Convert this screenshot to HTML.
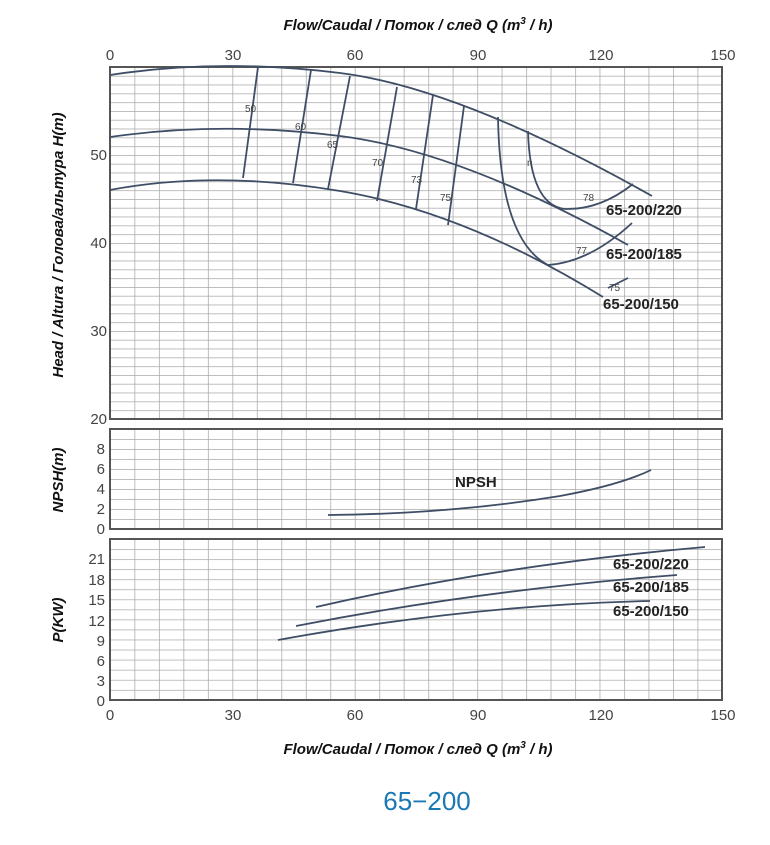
<!DOCTYPE html>
<html><head><meta charset="utf-8"><style>
body{margin:0;background:#fff;width:770px;height:840px;overflow:hidden}
svg text{font-family:"Liberation Sans",sans-serif}
</style></head><body>
<svg width="770" height="840" xmlns="http://www.w3.org/2000/svg">
<defs>
<pattern id="p1" x="110" y="67" width="24.48" height="8.8" patternUnits="userSpaceOnUse"><path d="M0,0V8.8M0,0H24.48" stroke="#a8a8a8" stroke-width="1.5" fill="none"/></pattern>
<pattern id="p2" x="110" y="429" width="24.48" height="10" patternUnits="userSpaceOnUse"><path d="M0,0V10M0,0H24.48" stroke="#a8a8a8" stroke-width="1.5" fill="none"/></pattern>
<pattern id="p3" x="110" y="539" width="24.48" height="10.06" patternUnits="userSpaceOnUse"><path d="M0,0V10.06M0,0H24.48" stroke="#a8a8a8" stroke-width="1.5" fill="none"/></pattern>
</defs>
<rect x="110" y="67" width="612" height="352" fill="url(#p1)"/>
<rect x="110" y="429" width="612" height="100" fill="url(#p2)"/>
<rect x="110" y="539" width="612" height="161" fill="url(#p3)"/>
<g fill="none" stroke="#555" stroke-width="2">
<rect x="110" y="67" width="612" height="352"/>
<rect x="110" y="429" width="612" height="100"/>
<rect x="110" y="539" width="612" height="161"/>
</g>
<g fill="none" stroke="#3f4e66" stroke-width="1.8" stroke-linejoin="round">
<path d="M110,75 Q220,58 340,73 T652,196"/>
<path d="M110,137 Q220,121 340,136 T628,245"/>
<path d="M110,190 Q215,170 340,191 T603,297"/>
<path d="M258,67 L243,178"/>
<path d="M311,70 L293,183"/>
<path d="M350,76 L328,189"/>
<path d="M397,87 L377,201"/>
<path d="M433,95 L416,209"/>
<path d="M464,106 L448,225"/>
<path d="M498,117 Q500,240 548,265 Q590,262 632,223"/>
<path d="M528,131 Q530,205 565,209 Q600,210 633,184"/>
<path d="M608,288 L628,278"/>
<path d="M328,515 Q450,514 560,496 Q620,485 651,470"/>
<path d="M316,607 Q500,565 705,547"/>
<path d="M296,626 Q480,590 677,575"/>
<path d="M278,640 Q470,605 650,601"/>
</g>
<g font-size="10" fill="#444">
<text x="245" y="112">50</text><text x="295" y="130">60</text><text x="327" y="148">65</text>
<text x="372" y="166">70</text><text x="411" y="183">73</text><text x="440" y="201">75</text>
<text x="527" y="166">η</text><text x="583" y="201">78</text><text x="576" y="254">77</text><text x="609" y="291">75</text>
</g>
<g font-size="15" font-weight="bold" fill="#222" style="font-family:'DejaVu Sans',sans-serif">
<text x="606" y="215">65-200/220</text><text x="606" y="259">65-200/185</text><text x="603" y="309">65-200/150</text>
<text x="455" y="487">NPSH</text>
<text x="613" y="569">65-200/220</text><text x="613" y="592">65-200/185</text><text x="613" y="616">65-200/150</text>
</g>
<g font-size="15" fill="#444" text-anchor="middle">
<text x="110" y="60">0</text><text x="233" y="60">30</text><text x="355" y="60">60</text><text x="478" y="60">90</text><text x="601" y="60">120</text><text x="723" y="60">150</text>
<text x="110" y="720">0</text><text x="233" y="720">30</text><text x="355" y="720">60</text><text x="478" y="720">90</text><text x="601" y="720">120</text><text x="723" y="720">150</text>
</g>
<g font-size="15" fill="#444" text-anchor="end">
<text x="107" y="160">50</text><text x="107" y="248">40</text><text x="107" y="336">30</text><text x="107" y="424">20</text>
<text x="105" y="454">8</text><text x="105" y="474">6</text><text x="105" y="494">4</text><text x="105" y="514">2</text><text x="105" y="534">0</text>
<text x="105" y="564">21</text><text x="105" y="585">18</text><text x="105" y="605">15</text><text x="105" y="626">12</text><text x="105" y="646">9</text><text x="105" y="666">6</text><text x="105" y="686">3</text><text x="105" y="706">0</text>
</g>
<g font-size="15" font-weight="bold" font-style="italic" fill="#111">
<text x="418" y="30" text-anchor="middle">Flow/Caudal  /  Поток / след   Q (m<tspan font-size="10" dy="-6">3</tspan><tspan dy="6"> / h)</tspan></text>
<text x="418" y="754" text-anchor="middle">Flow/Caudal  /  Поток / след   Q (m<tspan font-size="10" dy="-6">3</tspan><tspan dy="6"> / h)</tspan></text>
<text transform="translate(63,245) rotate(-90)" text-anchor="middle">Head / Altura  /  Голова/альтура H(m)</text>
<text transform="translate(63,480) rotate(-90)" text-anchor="middle">NPSH(m)</text>
<text transform="translate(63,620) rotate(-90)" text-anchor="middle">P(KW)</text>
</g>
<text x="427" y="810" text-anchor="middle" font-size="26" fill="#1a78b4">65−200</text>
</svg>
</body></html>
